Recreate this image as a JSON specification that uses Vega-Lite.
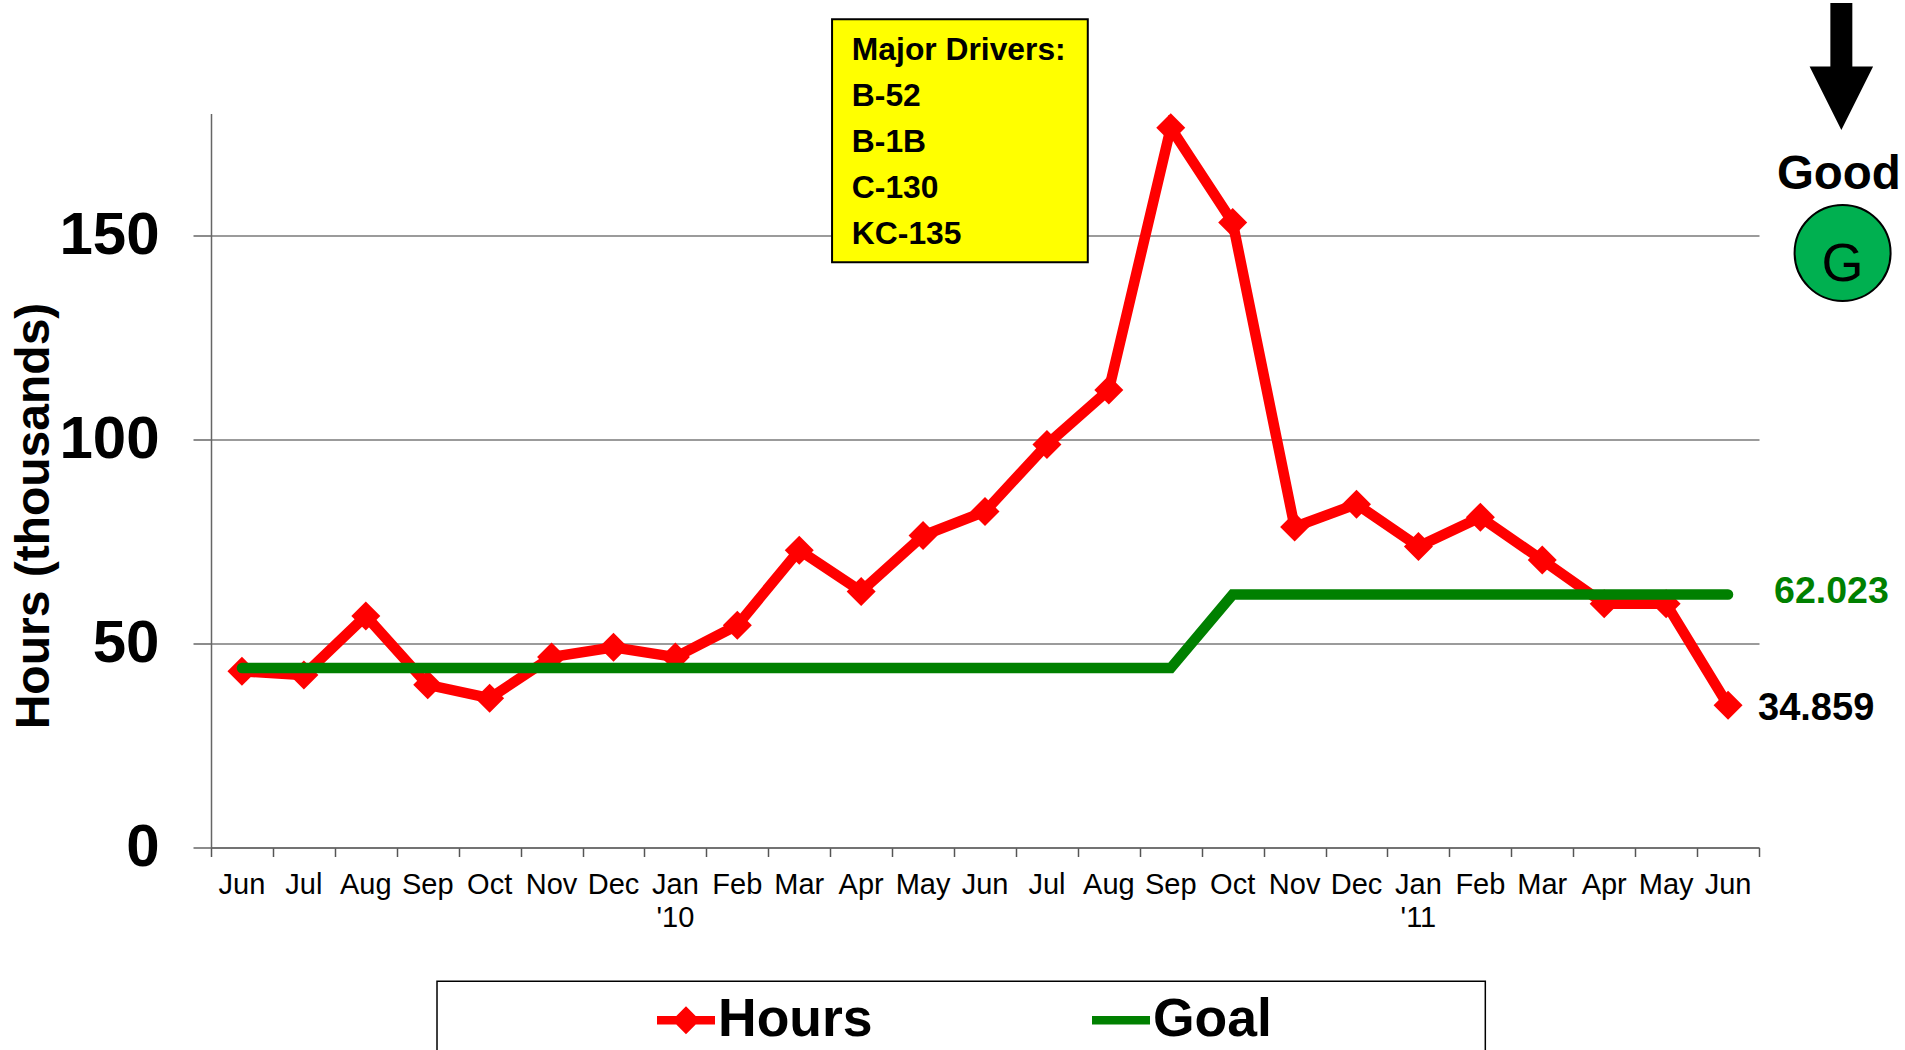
{
"$schema":"https://vega.github.io/schema/vega-lite/v6.json",
"width":1548,"height":734,
"autosize":{"type":"none"},
"padding":{"left":211,"top":113.5,"right":146,"bottom":202.5},
"background":"white",
"config":{"font":"Liberation Sans","view":{"stroke":null}},
"data":{"values":[
{"month":"Jun 2009","pos":0.5,"series":"Hours","value":43.2},{"month":"Jul 2009","pos":1.5,"series":"Hours","value":42.3},{"month":"Aug 2009","pos":2.5,"series":"Hours","value":56.8},{"month":"Sep 2009","pos":3.5,"series":"Hours","value":39.9},{"month":"Oct 2009","pos":4.5,"series":"Hours","value":36.6},{"month":"Nov 2009","pos":5.5,"series":"Hours","value":46.7},{"month":"Dec 2009","pos":6.5,"series":"Hours","value":49.1},{"month":"Jan 2010","pos":7.5,"series":"Hours","value":46.7},{"month":"Feb 2010","pos":8.5,"series":"Hours","value":54.5},{"month":"Mar 2010","pos":9.5,"series":"Hours","value":72.9},{"month":"Apr 2010","pos":10.5,"series":"Hours","value":62.8},{"month":"May 2010","pos":11.5,"series":"Hours","value":76.5},{"month":"Jun 2010","pos":12.5,"series":"Hours","value":82.4},{"month":"Jul 2010","pos":13.5,"series":"Hours","value":98.8},{"month":"Aug 2010","pos":14.5,"series":"Hours","value":112.2},{"month":"Sep 2010","pos":15.5,"series":"Hours","value":176.5},{"month":"Oct 2010","pos":16.5,"series":"Hours","value":153.3},{"month":"Nov 2010","pos":17.5,"series":"Hours","value":78.6},{"month":"Dec 2010","pos":18.5,"series":"Hours","value":84.2},{"month":"Jan 2011","pos":19.5,"series":"Hours","value":73.8},{"month":"Feb 2011","pos":20.5,"series":"Hours","value":81},{"month":"Mar 2011","pos":21.5,"series":"Hours","value":70.5},{"month":"Apr 2011","pos":22.5,"series":"Hours","value":59.8},{"month":"May 2011","pos":23.5,"series":"Hours","value":59.8},{"month":"Jun 2011","pos":24.5,"series":"Hours","value":34.859},
{"month":"Jun 2009","pos":0.5,"series":"Goal","value":44},{"month":"Jul 2009","pos":1.5,"series":"Goal","value":44},{"month":"Aug 2009","pos":2.5,"series":"Goal","value":44},{"month":"Sep 2009","pos":3.5,"series":"Goal","value":44},{"month":"Oct 2009","pos":4.5,"series":"Goal","value":44},{"month":"Nov 2009","pos":5.5,"series":"Goal","value":44},{"month":"Dec 2009","pos":6.5,"series":"Goal","value":44},{"month":"Jan 2010","pos":7.5,"series":"Goal","value":44},{"month":"Feb 2010","pos":8.5,"series":"Goal","value":44},{"month":"Mar 2010","pos":9.5,"series":"Goal","value":44},{"month":"Apr 2010","pos":10.5,"series":"Goal","value":44},{"month":"May 2010","pos":11.5,"series":"Goal","value":44},{"month":"Jun 2010","pos":12.5,"series":"Goal","value":44},{"month":"Jul 2010","pos":13.5,"series":"Goal","value":44},{"month":"Aug 2010","pos":14.5,"series":"Goal","value":44},{"month":"Sep 2010","pos":15.5,"series":"Goal","value":44},{"month":"Oct 2010","pos":16.5,"series":"Goal","value":62.023},{"month":"Nov 2010","pos":17.5,"series":"Goal","value":62.023},{"month":"Dec 2010","pos":18.5,"series":"Goal","value":62.023},{"month":"Jan 2011","pos":19.5,"series":"Goal","value":62.023},{"month":"Feb 2011","pos":20.5,"series":"Goal","value":62.023},{"month":"Mar 2011","pos":21.5,"series":"Goal","value":62.023},{"month":"Apr 2011","pos":22.5,"series":"Goal","value":62.023},{"month":"May 2011","pos":23.5,"series":"Goal","value":62.023},{"month":"Jun 2011","pos":24.5,"series":"Goal","value":62.023}
]},
"layer":[
{"transform":[{"filter":"datum.series=='Hours'"}],
"mark":{"type":"line","strokeWidth":10.5,"strokeJoin":"miter"},
"encoding":{
"x":{"field":"pos","type":"quantitative","scale":{"domain":[0,25],"nice":false,"zero":false},
"axis":{"title":null,"values":[0,1,2,3,4,5,6,7,8,9,10,11,12,13,14,15,16,17,18,19,20,21,22,23,24,25],"labels":false,
"tickSize":9,"tickWidth":1.5,"tickColor":"#555555","domainColor":"#666666","domainWidth":1.5,"grid":false}},
"y":{"field":"value","type":"quantitative","scale":{"domain":[0,180],"nice":false},
"axis":{"title":"Hours (thousands)","titleFontSize":48,"titleFontWeight":"bold","titleColor":"black","titleAngle":-90,"titleX":-177,"titleY":402,"titleBaseline":"middle","titleAlign":"center","values":[0,50,100,150],"labelFontSize":60,"labelFontWeight":"bold","labelColor":"black","labelPadding":34,"tickSize":18,"tickColor":"#666666","tickWidth":1.5,"domainColor":"#666666","domainWidth":1.5,"grid":true,"gridColor":"#7a7a7a","gridWidth":1.5}},
"color":{"field":"series","type":"nominal",
"scale":{"domain":["Hours","Goal"],"range":["#FF0000","#008000"]},
"legend":{"title":null,"orient":"none","legendX":446,"legendY":877.5,"columns":2,"columnPadding":219,"labelFontSize":53.5,"labelFontWeight":"bold","labelColor":"black","labelOffset":3,"labelLimit":400,"symbolSize":3364,"symbolStrokeWidth":0,
"encode":{"symbols":{"update":{"shape":{"signal":"datum.value=='Hours'?'M-1,-0.15L1,-0.15L1,0.15L-1,0.15Z M-0.48,0L0,-0.48L0.48,0L0,0.48Z':'M-1,-0.15L1,-0.15L1,0.15L-1,0.15Z'"},"fill":{"signal":"datum.value=='Hours'?'#FF0000':'#008000'"},"strokeWidth":{"value":0}}}}}}}},
{"transform":[{"filter":"datum.series=='Hours'"}],
"mark":{"type":"point","shape":"diamond","filled":true,"size":841,"color":"#FF0000","opacity":1},
"encoding":{"x":{"field":"pos","type":"quantitative"},"y":{"field":"value","type":"quantitative"}}},
{"transform":[{"filter":"datum.series=='Goal'"}],
"mark":{"type":"line","strokeWidth":10.5,"strokeCap":"round","strokeJoin":"miter"},
"encoding":{"x":{"field":"pos","type":"quantitative"},"y":{"field":"value","type":"quantitative"},"color":{"field":"series","type":"nominal"}}},
{"transform":[{"filter":"datum.series=='Hours' && datum.month=='Jun 2011'"}],
"mark":{"type":"text","align":"left","baseline":"middle","dx":30,"dy":4,"fontSize":38,"fontWeight":"bold","color":"black"},
"encoding":{"x":{"field":"pos","type":"quantitative"},"y":{"field":"value","type":"quantitative"},"text":{"field":"value","type":"quantitative","format":".3f"}}},
{"transform":[{"filter":"datum.series=='Goal' && datum.month=='Jun 2011'"}],
"mark":{"type":"text","align":"left","baseline":"middle","dx":46,"dy":-2.5,"fontSize":37.5,"fontWeight":"bold","color":"#008000"},
"encoding":{"x":{"field":"pos","type":"quantitative"},"y":{"field":"value","type":"quantitative"},"text":{"field":"value","type":"quantitative","format":".3f"}}},
{"transform":[{"filter":"datum.series=='Hours'"},{"calculate":"slice(datum.month,0,3)","as":"mon"}],
"mark":{"type":"text","align":"center","baseline":"middle","dy":37,"fontSize":29,"color":"black"},
"encoding":{"x":{"field":"pos","type":"quantitative"},"y":{"datum":0,"type":"quantitative"},"text":{"field":"mon"}}},
{"transform":[{"filter":"datum.series=='Hours' && slice(datum.month,0,3)=='Jan'"},{"calculate":"\"'\"+slice(datum.month,6)","as":"yr"}],
"mark":{"type":"text","align":"center","baseline":"middle","dy":70,"fontSize":29,"color":"black"},
"encoding":{"x":{"field":"pos","type":"quantitative"},"y":{"datum":0,"type":"quantitative"},"text":{"field":"yr"}}},
{"data":{"values":[{"x":10.03,"x2":14.16,"y":203.1,"y2":143.5}]},
"mark":{"type":"rect","fill":"#FFFF00","stroke":"black","strokeWidth":2},
"encoding":{"x":{"field":"x","type":"quantitative"},"x2":{"field":"x2"},"y":{"field":"y","type":"quantitative"},"y2":{"field":"y2"}}},
{"data":{"values":[{"x":10.35,"y":193.1,"t":"Major Drivers:"},{"x":10.35,"y":181.8,"t":"B-52"},{"x":10.35,"y":170.5,"t":"B-1B"},{"x":10.35,"y":159.3,"t":"C-130"},{"x":10.35,"y":148,"t":"KC-135"}]},
"mark":{"type":"text","align":"left","baseline":"alphabetic","fontSize":31.8,"fontWeight":"bold","color":"black"},
"encoding":{"x":{"field":"x","type":"quantitative"},"y":{"field":"y","type":"quantitative"},"text":{"field":"t"}}},
{"data":{"values":[{"x":3.65,"x2":20.58,"y":-32.8,"y2":-60}]},
"mark":{"type":"rect","fill":null,"stroke":"black","strokeWidth":1.5},
"encoding":{"x":{"field":"x","type":"quantitative"},"x2":{"field":"x2"},"y":{"field":"y","type":"quantitative"},"y2":{"field":"y2"}}},
{"data":{"values":[{"x":26.33,"y":191.5}]},
"mark":{"type":"point","shape":"M-0.173,-1L0.173,-1L0.173,0L0.5,0L0,1L-0.5,0L-0.173,0Z","size":16129,"filled":true,"color":"black","opacity":1},
"encoding":{"x":{"field":"x","type":"quantitative"},"y":{"field":"y","type":"quantitative"}}},
{"data":{"values":[{"x":26.29,"y":161.6,"t":"Good"}]},
"mark":{"type":"text","align":"center","baseline":"alphabetic","fontSize":47.5,"fontWeight":"bold","color":"black"},
"encoding":{"x":{"field":"x","type":"quantitative"},"y":{"field":"y","type":"quantitative"},"text":{"field":"t"}}},
{"data":{"values":[{"x":26.35,"y":145.8}]},
"mark":{"type":"point","shape":"circle","size":9216,"filled":true,"fill":"#00B050","stroke":"black","strokeWidth":2,"opacity":1},
"encoding":{"x":{"field":"x","type":"quantitative"},"y":{"field":"y","type":"quantitative"}}},
{"data":{"values":[{"x":26.35,"y":138.9,"t":"G"}]},
"mark":{"type":"text","align":"center","baseline":"alphabetic","fontSize":54,"color":"black"},
"encoding":{"x":{"field":"x","type":"quantitative"},"y":{"field":"y","type":"quantitative"},"text":{"field":"t"}}}
]
}
